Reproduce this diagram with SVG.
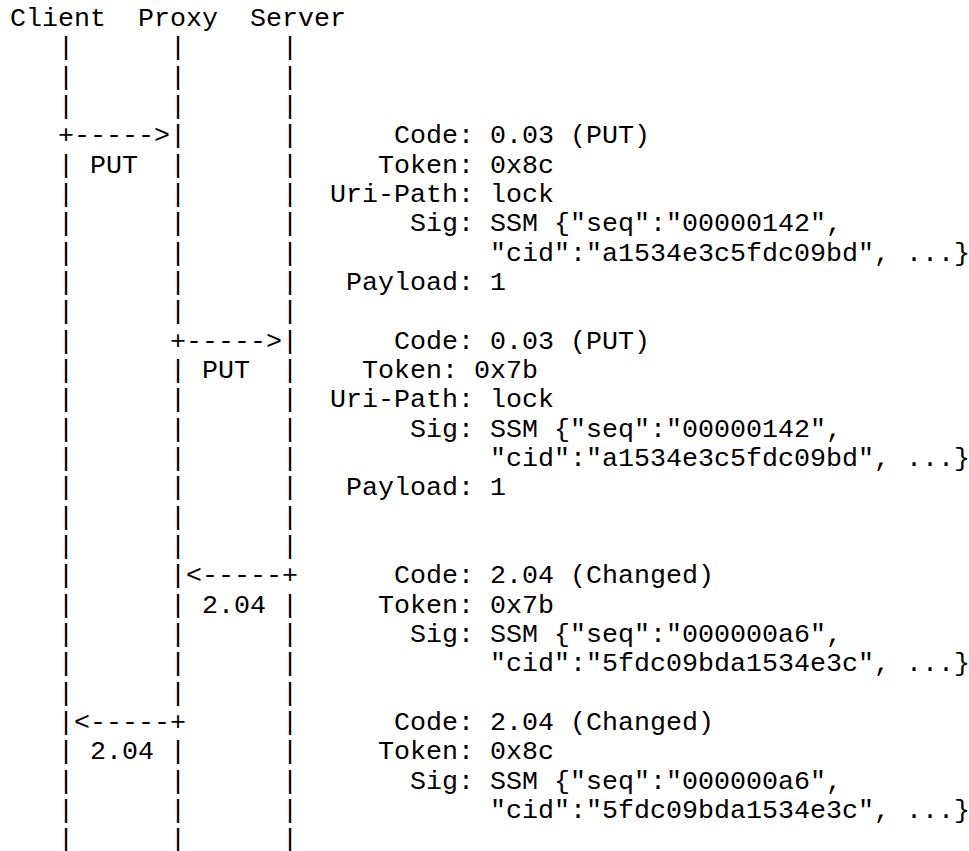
<svg xmlns="http://www.w3.org/2000/svg" width="969" height="851" viewBox="0 0 969 851">
<style>
text { font-family: "Liberation Mono", "Courier New", monospace; font-size: 26.667px; fill: #000; white-space: pre; }
</style>
<rect width="969" height="851" fill="#fff"/>
<g id="client">
<text x="10" y="26">Client</text>
<text><tspan x="58" y="55.33">|</tspan><tspan x="58" y="84.67">|</tspan><tspan x="58" y="114">|</tspan><tspan x="58" y="172.67">|</tspan><tspan x="58" y="202">|</tspan><tspan x="58" y="231.33">|</tspan><tspan x="58" y="260.67">|</tspan><tspan x="58" y="290">|</tspan><tspan x="58" y="319.33">|</tspan><tspan x="58" y="348.67">|</tspan><tspan x="58" y="378">|</tspan><tspan x="58" y="407.33">|</tspan><tspan x="58" y="436.67">|</tspan><tspan x="58" y="466">|</tspan><tspan x="58" y="495.33">|</tspan><tspan x="58" y="524.67">|</tspan><tspan x="58" y="554">|</tspan><tspan x="58" y="583.33">|</tspan><tspan x="58" y="612.67">|</tspan><tspan x="58" y="642">|</tspan><tspan x="58" y="671.33">|</tspan><tspan x="58" y="700.67">|</tspan><tspan x="58" y="730">|</tspan><tspan x="58" y="759.33">|</tspan><tspan x="58" y="788.67">|</tspan><tspan x="58" y="818">|</tspan><tspan x="58" y="847.33">|</tspan></text>
</g>
<g id="proxy">
<text x="138" y="26">Proxy</text>
<text><tspan x="170" y="55.33">|</tspan><tspan x="170" y="84.67">|</tspan><tspan x="170" y="114">|</tspan><tspan x="170" y="143.33">|</tspan><tspan x="170" y="172.67">|</tspan><tspan x="170" y="202">|</tspan><tspan x="170" y="231.33">|</tspan><tspan x="170" y="260.67">|</tspan><tspan x="170" y="290">|</tspan><tspan x="170" y="319.33">|</tspan><tspan x="170" y="378">|</tspan><tspan x="170" y="407.33">|</tspan><tspan x="170" y="436.67">|</tspan><tspan x="170" y="466">|</tspan><tspan x="170" y="495.33">|</tspan><tspan x="170" y="524.67">|</tspan><tspan x="170" y="554">|</tspan><tspan x="170" y="583.33">|</tspan><tspan x="170" y="612.67">|</tspan><tspan x="170" y="642">|</tspan><tspan x="170" y="671.33">|</tspan><tspan x="170" y="700.67">|</tspan><tspan x="170" y="759.33">|</tspan><tspan x="170" y="788.67">|</tspan><tspan x="170" y="818">|</tspan><tspan x="170" y="847.33">|</tspan></text>
</g>
<g id="server">
<text x="250" y="26">Server</text>
<text><tspan x="282" y="55.33">|</tspan><tspan x="282" y="84.67">|</tspan><tspan x="282" y="114">|</tspan><tspan x="282" y="143.33">|</tspan><tspan x="282" y="172.67">|</tspan><tspan x="282" y="202">|</tspan><tspan x="282" y="231.33">|</tspan><tspan x="282" y="260.67">|</tspan><tspan x="282" y="290">|</tspan><tspan x="282" y="319.33">|</tspan><tspan x="282" y="348.67">|</tspan><tspan x="282" y="378">|</tspan><tspan x="282" y="407.33">|</tspan><tspan x="282" y="436.67">|</tspan><tspan x="282" y="466">|</tspan><tspan x="282" y="495.33">|</tspan><tspan x="282" y="524.67">|</tspan><tspan x="282" y="554">|</tspan><tspan x="282" y="612.67">|</tspan><tspan x="282" y="642">|</tspan><tspan x="282" y="671.33">|</tspan><tspan x="282" y="700.67">|</tspan><tspan x="282" y="730">|</tspan><tspan x="282" y="759.33">|</tspan><tspan x="282" y="788.67">|</tspan><tspan x="282" y="818">|</tspan><tspan x="282" y="847.33">|</tspan></text>
</g>
<g id="connectors">
<text x="58" y="143.33">+-----&gt;</text>
<text x="90" y="172.67">PUT</text>
<text x="170" y="348.67">+-----&gt;</text>
<text x="202" y="378">PUT</text>
<text x="186" y="583.33">&lt;-----+</text>
<text x="202" y="612.67">2.04</text>
<text x="74" y="730">&lt;-----+</text>
<text x="90" y="759.33">2.04</text>
</g>
<g id="msg-put-1">
<text x="394" y="143.33">Code: 0.03 (PUT)</text>
<text x="378" y="172.67">Token: 0x8c</text>
<text x="330" y="202">Uri-Path: lock</text>
<text x="410" y="231.33">Sig: SSM {"seq":"00000142",</text>
<text x="490" y="260.67">"cid":"a1534e3c5fdc09bd", ...}</text>
<text x="346" y="290">Payload: 1</text>
</g>
<g id="msg-put-2">
<text x="394" y="348.67">Code: 0.03 (PUT)</text>
<text x="362" y="378">Token: 0x7b</text>
<text x="330" y="407.33">Uri-Path: lock</text>
<text x="410" y="436.67">Sig: SSM {"seq":"00000142",</text>
<text x="490" y="466">"cid":"a1534e3c5fdc09bd", ...}</text>
<text x="346" y="495.33">Payload: 1</text>
</g>
<g id="msg-changed-1">
<text x="394" y="583.33">Code: 2.04 (Changed)</text>
<text x="378" y="612.67">Token: 0x7b</text>
<text x="410" y="642">Sig: SSM {"seq":"000000a6",</text>
<text x="490" y="671.33">"cid":"5fdc09bda1534e3c", ...}</text>
</g>
<g id="msg-changed-2">
<text x="394" y="730">Code: 2.04 (Changed)</text>
<text x="378" y="759.33">Token: 0x8c</text>
<text x="410" y="788.67">Sig: SSM {"seq":"000000a6",</text>
<text x="490" y="818">"cid":"5fdc09bda1534e3c", ...}</text>
</g>
</svg>
